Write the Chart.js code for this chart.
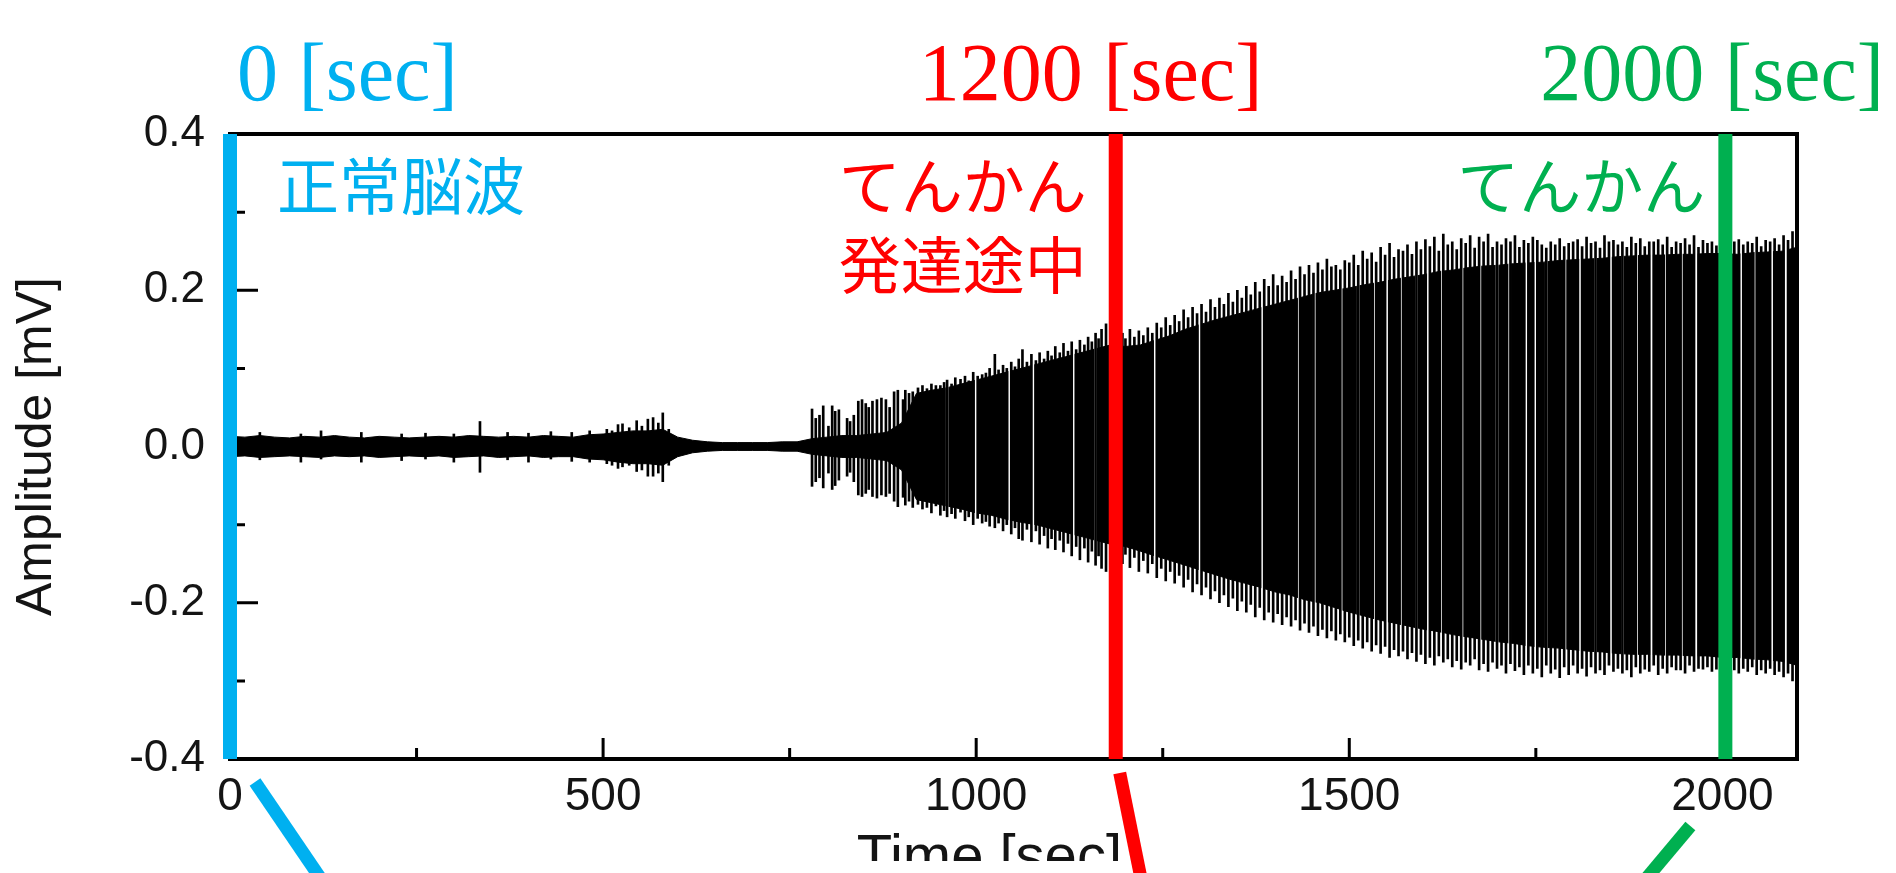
<!DOCTYPE html>
<html>
<head>
<meta charset="utf-8">
<title>EEG amplitude</title>
<script src="https://cdn.jsdelivr.net/npm/chart.js@4.4.1/dist/chart.umd.min.js"></script>
<style>
  html, body { margin: 0; padding: 0; background: #fff; overflow: hidden; }
  #wrap { position: relative; width: 1896px; height: 873px; }
</style>
</head>
<body>
<div id="wrap"><canvas id="eegChart"></canvas></div>
<script>
// ---- values (time in sec, amplitude in mV) ----

// dense body of the trace: upper / lower envelope every 20 s
const bodyTime = [
  0, 20, 40, 60, 80, 100, 120, 140, 160, 180,
  200, 220, 240, 260, 280, 300, 320, 340, 360, 380,
  400, 420, 440, 460, 480, 500, 520, 540, 560, 580,
  600, 620, 640, 660, 680, 700, 720, 740, 760, 780,
  800, 820, 840, 860, 880, 900, 920, 940, 960, 980,
  1000, 1020, 1040, 1060, 1080, 1100, 1120, 1140, 1160, 1180,
  1200, 1220, 1240, 1260, 1280, 1300, 1320, 1340, 1360, 1380,
  1400, 1420, 1440, 1460, 1480, 1500, 1520, 1540, 1560, 1580,
  1600, 1620, 1640, 1660, 1680, 1700, 1720, 1740, 1760, 1780,
  1800, 1820, 1840, 1860, 1880, 1900, 1920, 1940, 1960, 1980,
  2000, 2020, 2040, 2060, 2080, 2100
];
const bodyHigh = [
  .013, .012, .014, .012, .011, .013, .012, .014, .012, .011,
  .013, .012, .011, .012, .013, .012, .014, .013, .012, .013,
  .012, .014, .013, .012, .015, .016, .018, .02, .02, .022,
  .012, .008, .006, .005, .005, .005, .005, .006, .006, .01,
  .012, .014, .014, .016, .018, .03, .068, .072, .075, .08,
  .085, .09, .095, .1, .105, .11, .115, .12, .125, .13,
  .128, .13, .136, .142, .15, .156, .162, .167, .172, .177,
  .182, .187, .192, .197, .2, .203, .207, .21, .214, .217,
  .22, .224, .226, .229, .231, .232, .234, .235, .236, .238,
  .239, .24, .241, .243, .244, .245, .245, .246, .246, .247,
  .247, .246, .248, .249, .25, .255
];
const bodyLow = [
  -.013, -.012, -.014, -.013, -.012, -.013, -.014, -.012, -.013, -.012,
  -.014, -.013, -.012, -.013, -.012, -.014, -.013, -.012, -.014, -.013,
  -.012, -.014, -.013, -.013, -.016, -.017, -.02, -.022, -.022, -.024,
  -.013, -.008, -.006, -.005, -.005, -.005, -.005, -.006, -.006, -.01,
  -.012, -.014, -.014, -.016, -.018, -.03, -.068, -.072, -.076, -.08,
  -.085, -.088, -.093, -.097, -.1, -.105, -.11, -.115, -.12, -.125,
  -.128, -.134, -.14, -.146, -.152, -.158, -.164, -.17, -.175, -.18,
  -.186, -.19, -.196, -.2, -.206, -.212, -.217, -.222, -.226, -.23,
  -.234, -.237, -.241, -.244, -.247, -.25, -.252, -.255, -.257, -.258,
  -.26, -.262, -.263, -.265, -.266, -.266, -.267, -.267, -.268, -.268,
  -.27, -.27, -.272, -.273, -.275, -.28
];

// single spikes sticking out of the body
const spikeTime = [
  40, 95, 122, 176, 230, 262, 300, 335, 372, 400, 430, 458, 482, 505, 512, 520, 526, 535, 545, 552, 560, 567, 574, 580, 588,
  780, 785, 790, 795, 802, 807, 811, 816, 827, 831, 836, 842, 847, 852, 856, 861, 867, 873, 879, 884, 890, 895, 902,
  905, 915, 928, 940, 952, 961, 972, 985, 996, 1008, 1018, 1025, 1036, 1047, 1057, 1062, 1074, 1085, 1096, 1106, 1117, 1128, 1139, 1150, 1160, 1168, 1174, 1182,
  1196, 1206, 1218, 1230, 1242, 1254, 1266, 1278, 1290, 1302, 1314, 1326, 1338, 1350, 1362, 1374, 1386, 1398, 1410, 1422, 1434, 1446, 1458, 1470, 1482, 1494,
  1506, 1518, 1530, 1542, 1554, 1566, 1578, 1590, 1602, 1614, 1626, 1638, 1650, 1662, 1674, 1686, 1698, 1710, 1722, 1734, 1746, 1758, 1770, 1782, 1794,
  1806, 1818, 1830, 1842, 1854, 1866, 1878, 1890, 1902, 1914, 1926, 1938, 1950, 1962, 1974, 1986, 1998, 2010, 2022, 2034, 2046, 2058, 2070, 2082, 2094,
  910, 922, 934, 946, 957, 967, 979, 990, 1002, 1013, 1030, 1041, 1052, 1068, 1080, 1091, 1101, 1112, 1123, 1134, 1145, 1155, 1164,
  1200, 1212, 1224, 1236, 1248, 1260, 1272, 1284, 1296, 1308, 1320, 1332, 1344, 1356, 1368, 1380, 1392, 1404, 1416, 1428, 1440, 1452, 1464, 1476, 1488,
  1500, 1512, 1524, 1536, 1548, 1560, 1572, 1584, 1596, 1608, 1620, 1632, 1644, 1656, 1668, 1680, 1692, 1704, 1716, 1728, 1740, 1752, 1764, 1776, 1788,
  1800, 1812, 1824, 1836, 1848, 1860, 1872, 1884, 1896, 1908, 1920, 1932, 1944, 1956, 1968, 1980, 1992, 2004, 2016, 2028, 2040, 2052, 2064, 2076, 2088
];
const spikeHigh = [
  .018, .016, .02, .018, .016, .017, .016, .032, .018, .017, .019, .018, .02, .022, .02, .028, .029, .024, .033, .026, .035, .037, .03, .043, .022,
  .048, .036, .04, .052, .026, .052, .045, .047, .036, .032, .04, .058, .06, .055, .05, .058, .06, .062, .06, .05, .07, .072, .06,
  .072, .07, .078, .08, .078, .085, .088, .09, .095, .092, .1, .118, .104, .108, .112, .124, .118, .12, .122, .128, .132, .134, .136, .14, .145, .15, .157, .15,
  .145, .15, .148, .152, .158, .165, .168, .175, .178, .182, .188, .19, .196, .2, .205, .21, .214, .22, .218, .225, .23, .232, .235, .24, .232, .238,
  .245, .25, .248, .255, .26, .252, .258, .262, .265, .268, .272, .262, .266, .27, .268, .272, .262, .266, .27, .264, .268, .258, .262, .266, .26,
  .265, .268, .262, .27, .264, .262, .268, .266, .262, .265, .268, .262, .266, .27, .264, .262, .266, .262, .265, .262, .268, .264, .266, .27, .275,
  .068, .075, .074, .078, .082, .08, .086, .084, .09, .094, .098, .1, .102, .108, .11, .112, .116, .12, .122, .124, .13, .134, .138,
  .138, .14, .142, .145, .152, .155, .16, .165, .17, .172, .178, .182, .185, .19, .194, .198, .205, .206, .21, .214, .22, .222, .226, .23, .226,
  .235, .232, .24, .236, .245, .242, .25, .246, .252, .256, .25, .258, .252, .26, .254, .262, .255, .258, .262, .255, .26, .264, .254, .258, .256,
  .262, .256, .26, .254, .262, .258, .255, .26, .256, .262, .258, .255, .26, .258, .255, .26, .257, .256, .262, .258, .26, .256, .262, .258, .264
];
const spikeLow = [
  -.017, -.02, -.016, -.02, -.018, -.016, -.02, -.033, -.017, -.02, -.016, -.019, -.02, -.022, -.024, -.028, -.026, -.024, -.032, -.03, -.038, -.038, -.034, -.045, -.024,
  -.051, -.045, -.04, -.053, -.034, -.055, -.05, -.043, -.038, -.033, -.045, -.062, -.064, -.06, -.055, -.064, -.066, -.062, -.064, -.06, -.07, -.077, -.065,
  -.075, -.078, -.08, -.085, -.088, -.09, -.092, -.095, -.1, -.098, -.102, -.104, -.108, -.112, -.118, -.12, -.122, -.125, -.13, -.132, -.135, -.14, -.145, -.148, -.152, -.156, -.16, -.158,
  -.15, -.155, -.16, -.162, -.168, -.172, -.175, -.18, -.186, -.19, -.195, -.2, -.205, -.21, -.212, -.218, -.222, -.225, -.228, -.23, -.235, -.238, -.242, -.245, -.248, -.25,
  -.255, -.258, -.262, -.265, -.27, -.268, -.272, -.275, -.278, -.28, -.276, -.282, -.285, -.28, -.286, -.288, -.284, -.29, -.287, -.292, -.29, -.295, -.29, -.296, -.292,
  -.29, -.294, -.29, -.292, -.288, -.29, -.295, -.29, -.288, -.292, -.29, -.286, -.29, -.288, -.285, -.288, -.29, -.286, -.29, -.288, -.292, -.29, -.292, -.295, -.3,
  -.07, -.074, -.078, -.076, -.082, -.086, -.084, -.09, -.092, -.096, -.098, -.1, -.104, -.106, -.108, -.114, -.118, -.12, -.124, -.128, -.13, -.134, -.14,
  -.138, -.142, -.146, -.15, -.156, -.16, -.165, -.17, -.176, -.18, -.185, -.19, -.194, -.198, -.202, -.206, -.212, -.214, -.218, -.222, -.226, -.23, -.234, -.236, -.24,
  -.244, -.248, -.25, -.254, -.256, -.26, -.262, -.264, -.266, -.27, -.268, -.272, -.274, -.276, -.272, -.278, -.276, -.28, -.278, -.282, -.28, -.284, -.28, -.285, -.282,
  -.28, -.284, -.282, -.286, -.28, -.284, -.286, -.282, -.285, -.28, -.284, -.282, -.286, -.28, -.284, -.282, -.285, -.28, -.286, -.284, -.282, -.286, -.284, -.288, -.29
];

// thin white breaks through the dense part of the trace
const gapTime = [
  961, 1000, 1045, 1076, 1130, 1160, 1240, 1300, 1384, 1433, 1453, 1489, 1512, 1535, 1550, 1571, 1590,
  1606, 1625, 1651, 1675, 1698, 1715, 1738, 1750, 1764, 1789, 1810, 1830, 1850, 1866, 1885, 1905,
  1925, 1945, 1965, 2026, 2045, 2066, 2085
];

// vertical markers
const markerTime = [0, 1187, 2004];
const markerLabel = ['0 [sec]', '1200 [sec]', '2000 [sec]'];
const markerNote = [['正常脳波'], ['てんかん', '発達途中'], ['てんかん']];

// axis tick labels
const xTickLabels = ['0', '500', '1000', '1500', '2000'];
const yTickLabels = ['-0.4', '-0.2', '0.0', '0.2', '0.4'];

// ---- styles ----
const SANS = '"Liberation Sans", Arial, Helvetica, sans-serif';
const INK = '#141414';
const MARK = [
  { color: '#00B0F0', headDx: 7, noteAlign: 'left', noteDx: 47, leader: [25, 23, 93, 123] },
  { color: '#FF0000', headDx: -197, noteAlign: 'right', noteDx: -29, leader: [4, 14, 26, 123] },
  { color: '#00B050', headDx: -185, noteAlign: 'right', noteDx: -20, leader: [-35, 67, -82, 123] }
];

// frame + inward tick marks, drawn under the data
const frameTicks = {
  id: 'frameTicks',
  beforeDatasetsDraw(chart) {
    const { ctx, chartArea: a, scales: { x, y } } = chart;
    ctx.save();
    ctx.strokeStyle = '#000';
    ctx.lineWidth = 4;
    ctx.strokeRect(a.left, a.top, a.right - a.left, a.bottom - a.top);
    ctx.lineWidth = 3;
    ctx.beginPath();
    x.ticks.forEach(t => {
      const px = x.getPixelForValue(t.value);
      const len = t.value % 500 === 0 ? 21 : 11;
      ctx.moveTo(px, a.bottom);
      ctx.lineTo(px, a.bottom - len);
    });
    y.ticks.forEach(t => {
      const py = y.getPixelForValue(t.value);
      const len = Math.round(t.value * 10) % 2 === 0 ? 28 : 15;
      ctx.moveTo(a.left, py);
      ctx.lineTo(a.left + len, py);
    });
    ctx.stroke();
    ctx.restore();
  }
};

// headings, notes and leader lines for the three markers
const markerText = {
  id: 'markerText',
  afterDraw(chart) {
    const { ctx, chartArea: a, scales: { x } } = chart;
    ctx.save();
    // the source figure is cropped just under the x title
    ctx.fillStyle = '#fff';
    ctx.fillRect(0, 861, chart.width, chart.height - 861);
    markerTime.forEach((t, i) => {
      const px = x.getPixelForValue(t);
      const st = MARK[i];
      ctx.fillStyle = st.color;
      ctx.strokeStyle = st.color;
      ctx.textBaseline = 'alphabetic';
      ctx.textAlign = 'left';
      ctx.font = '82px "Liberation Serif", "Times New Roman", serif';
      ctx.fillText(markerLabel[i], px + st.headDx, a.top - 34);
      ctx.font = '62px "Noto Sans CJK JP", sans-serif';
      ctx.textAlign = st.noteAlign;
      markerNote[i].forEach((line, j) => {
        ctx.fillText(line, px + st.noteDx, a.top + 76 + j * 79);
      });
      ctx.lineWidth = 13;
      ctx.lineCap = 'butt';
      ctx.beginPath();
      ctx.moveTo(px + st.leader[0], a.bottom + st.leader[1]);
      ctx.lineTo(px + st.leader[2], a.bottom + st.leader[3]);
      ctx.stroke();
    });
    ctx.restore();
  }
};

const markerSets = markerTime.map((t, i) => ({
  type: 'line',
  data: [{ x: t, y: -0.4 }, { x: t, y: 0.4 }],
  borderColor: MARK[i].color,
  borderWidth: 14,
  borderCapStyle: 'butt',
  pointRadius: 0,
  clip: false,
  order: 0
}));

new Chart(document.getElementById('eegChart'), {
  type: 'bar',
  data: {
    datasets: [
      ...markerSets,
      {
        type: 'bar',
        data: spikeTime.map((t, i) => ({ x: t, y: [spikeLow[i], spikeHigh[i]] })),
        backgroundColor: '#000',
        borderWidth: 0,
        barThickness: 2,
        grouped: false,
        order: 1
      },
      {
        type: 'bar',
        data: gapTime.map(t => ({ x: t, y: [-0.3, 0.3] })),
        backgroundColor: '#fff',
        borderWidth: 0,
        barThickness: 2,
        grouped: false,
        order: 2
      },
      {
        type: 'line',
        data: bodyTime.map((t, i) => ({ x: t, y: bodyHigh[i] })),
        borderColor: '#000',
        backgroundColor: '#000',
        borderWidth: 1,
        pointRadius: 0,
        tension: 0,
        fill: '+1',
        order: 3
      },
      {
        type: 'line',
        data: bodyTime.map((t, i) => ({ x: t, y: bodyLow[i] })),
        borderColor: '#000',
        borderWidth: 1,
        pointRadius: 0,
        tension: 0,
        fill: false,
        order: 3
      }
    ]
  },
  options: {
    responsive: true,
    maintainAspectRatio: false,
    animation: false,
    events: [],
    layout: { padding: { left: 0, top: 134, right: 99, bottom: 0 } },
    plugins: { legend: { display: false }, tooltip: { enabled: false } },
    scales: {
      x: {
        type: 'linear',
        min: 0,
        max: 2100,
        offset: false,
        grid: { display: false, drawTicks: false },
        border: { display: false },
        ticks: {
          stepSize: 250,
          includeBounds: false,
          autoSkip: false,
          maxRotation: 0,
          padding: 11,
          color: INK,
          font: { family: SANS, size: 46 },
          callback: v => (v % 500 === 0 ? xTickLabels[v / 500] : '')
        },
        title: {
          display: true,
          text: 'Time [sec]   ',
          color: INK,
          font: { family: SANS, size: 58 },
          padding: { top: 0, bottom: -21 }
        },
        afterFit: s => { s.height = 114; }
      },
      y: {
        type: 'linear',
        min: -0.4,
        max: 0.4,
        grid: { display: false, drawTicks: false },
        border: { display: false },
        ticks: {
          stepSize: 0.1,
          autoSkip: false,
          padding: 25,
          color: INK,
          font: { family: SANS, size: 44 },
          callback: v => {
            const k = Math.round(v * 10);
            return k % 2 === 0 ? yTickLabels[(k + 4) / 2] : '';
          }
        },
        title: {
          display: true,
          text: 'Amplitude [mV]',
          color: INK,
          font: { family: SANS, size: 50 },
          padding: { top: 7, bottom: 0 }
        },
        afterFit: s => { s.width = 230; }
      }
    }
  },
  plugins: [frameTicks, markerText]
});
</script>
</body>
</html>
